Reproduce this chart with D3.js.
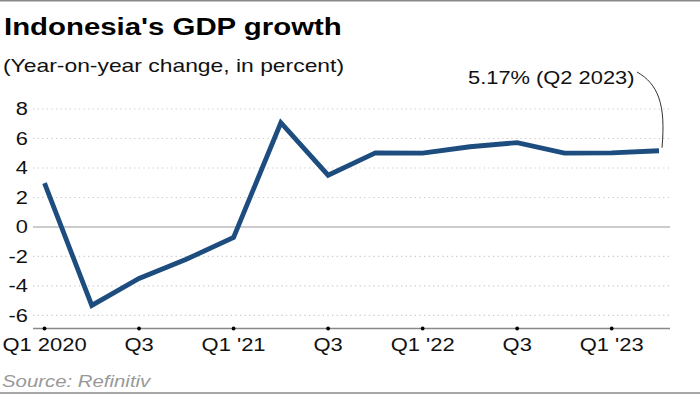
<!DOCTYPE html>
<html>
<head>
<meta charset="utf-8">
<script src="https://cdn.jsdelivr.net/npm/d3@7"></script>
<style>
  html, body { margin: 0; padding: 0; background: #fff; }
  svg { display: block; font-family: "Liberation Sans", Arial, sans-serif; }
</style>
</head>
<body>
<svg id="chart" width="700" height="395"></svg>
<script>
const quarters = ["Q1 2020","Q2 2020","Q3 2020","Q4 2020","Q1 2021","Q2 2021","Q3 2021","Q4 2021","Q1 2022","Q2 2022","Q3 2022","Q4 2022","Q1 2023","Q2 2023"];
const growth = [2.97, -5.32, -3.49, -2.19, -0.71, 7.07, 3.51, 5.02, 5.01, 5.44, 5.72, 5.01, 5.03, 5.17];
const yTicks = [-6, -4, -2, 0, 2, 4, 6, 8];
const xTickIdx = [0, 2, 4, 6, 8, 10, 12];
const xTickLabels = ["Q1 2020", "Q3", "Q1 '21", "Q3", "Q1 '22", "Q3", "Q1 '23"];

const W = 700, H = 395;
const SX = 1.25; // horizontal text stretch seen in the reference
const svg = d3.select("#chart");

const x = d3.scaleLinear().domain([0, quarters.length - 1]).range([44.5, 659]);
const y = d3.scaleLinear().domain([-6.85, 8]).range([328, 109]);

function txt(g, tx, ty, str, opts) {
  const t = g.append("text")
    .attr("transform", `translate(${tx},${ty}) scale(${opts.sx || SX},1)`)
    .attr("font-size", opts.size)
    .attr("fill", opts.fill || "#111")
    .attr("text-anchor", opts.anchor || "start")
    .attr("dominant-baseline", opts.baseline || "auto")
    .text(str);
  if (opts.weight) t.attr("font-weight", opts.weight);
  if (opts.style) t.attr("font-style", opts.style);
  return t;
}

// frame lines
svg.append("line").attr("x1", 0).attr("x2", W).attr("y1", 0.75).attr("y2", 0.75)
  .attr("stroke", "#888").attr("stroke-width", 1.5);
svg.append("line").attr("x1", 0).attr("x2", W).attr("y1", 393).attr("y2", 393)
  .attr("stroke", "#888").attr("stroke-width", 1.5);

// titles
txt(svg, 4, 35, "Indonesia's GDP growth", {size: 23.5, weight: "bold", fill: "#000"});
txt(svg, 3, 72, "(Year-on-year change, in percent)", {size: 18.3, fill: "#111"});

// gridlines
const grid = svg.append("g");
grid.selectAll("line.grid").data(yTicks.filter(d => d !== 0)).join("line")
  .attr("class", "grid")
  .attr("x1", 33).attr("x2", 670)
  .attr("y1", d => y(d)).attr("y2", d => y(d))
  .attr("stroke", "#c8c8c8").attr("stroke-width", 1.2)
  .attr("stroke-dasharray", "1.2,3.4");
grid.append("line").attr("x1", 33).attr("x2", 670)
  .attr("y1", y(0)).attr("y2", y(0))
  .attr("stroke", "#999").attr("stroke-width", 1.2);

// y labels
const yl = svg.append("g");
yTicks.forEach(d => txt(yl, 28, y(d), String(d), {size: 18.5, sx: 1.18, anchor: "end", baseline: "central"}));

// baseline (x axis)
svg.append("line").attr("x1", 33).attr("x2", 670)
  .attr("y1", 328.5).attr("y2", 328.5)
  .attr("stroke", "#888").attr("stroke-width", 1.3);
const xt = svg.append("g");
xt.selectAll("circle").data(xTickIdx).join("circle")
  .attr("cx", d => x(d)).attr("cy", 328.5).attr("r", 1.9).attr("fill", "#000");
xTickIdx.forEach((d, i) => txt(xt, x(d), 351, xTickLabels[i], {size: 18, sx: 1.22, anchor: "middle"}));

// line
const line = d3.line().x((d, i) => x(i)).y(d => y(d));
svg.append("path").datum(growth)
  .attr("d", line)
  .attr("fill", "none")
  .attr("stroke", "#1d4d7e")
  .attr("stroke-width", 4.8)
  .attr("stroke-linejoin", "miter")
  .attr("stroke-linecap", "butt");

// annotation
const last = growth.length - 1;
txt(svg, 468, 84, "5.17% (Q2 2023)", {size: 17.5, fill: "#111"});
svg.append("path")
  .attr("d", `M637,72 C658,84 ${x(last) + 7},104 ${x(last) + 3},${y(growth[last]) - 3}`)
  .attr("fill", "none").attr("stroke", "#333").attr("stroke-width", 1);

// source
txt(svg, 2, 387, "Source: Refinitiv", {size: 16.3, fill: "#999", style: "italic"});
</script>
</body>
</html>
